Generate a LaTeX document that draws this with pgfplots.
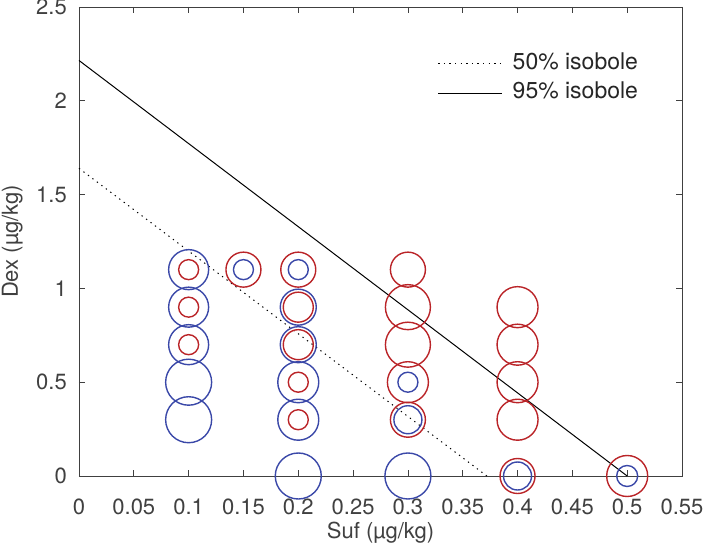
\documentclass[border=0pt]{standalone}
\usepackage{fontspec}
\setmainfont{TeX Gyre Heros}
\usepackage{pgfplots}
\pgfplotsset{compat=1.18}
\definecolor{cblue}{RGB}{58,72,168}
\definecolor{cred}{RGB}{186,36,40}
\definecolor{axgray}{RGB}{64,64,64}
\newcommand{\bigf}{\fontsize{22}{26}\selectfont}
\newcommand{\legf}{\fontsize{23}{27}\selectfont}
\begin{document}
\begin{tikzpicture}
\begin{axis}[name=ax, at={(0,0)}, anchor=south west,
  scale only axis, width=603pt, height=469pt,
  xmin=0, xmax=0.55, ymin=0, ymax=2.5,
  clip=false,
  xtick={0,0.05,0.1,0.15,0.2,0.25,0.3,0.35,0.4,0.45,0.5,0.55},
  xticklabels={0,0.05,0.1,0.15,0.2,0.25,0.3,0.35,0.4,0.45,0.5,0.55},
  ytick={0,0.5,1,1.5,2,2.5},
  yticklabels={0,0.5,1,1.5,2,2.5},
  tick align=inside, major tick length=6pt,
  axis line style={axgray, line width=0.7pt},
  tick style={axgray, line width=0.7pt},
  /pgf/number format/assume math mode=true,
  every tick label/.append style={font=\bigf, text=axgray, inner sep=0pt},
  xticklabel style={anchor=base, yshift=-38.5pt},
  yticklabel style={anchor=east, xshift=-12pt},
  xlabel={Suf (µg/kg)}, ylabel={Dex (µg/kg)},
  xlabel style={font=\bigf, text=axgray, inner sep=0pt, at={(axis description cs:0.5,-0.1343)}, anchor=base},
  ylabel style={font=\bigf, text=axgray, inner sep=0pt, at={(axis description cs:-0.1012,0.5)}, anchor=base},
  legend style={draw=none, fill=none, inner sep=0pt, at={(axis cs:0.327,2.256)}, anchor=north west,
    font=\legf, text=black!85, row sep=8pt,
    nodes={inner sep=0pt, text height=16.5pt, text depth=5pt}},
  legend cell align=left,
  legend image code/.code={\draw[#1] (0pt,0pt) -- (64pt,0pt);},
  /tikz/every odd column/.append style={column sep=10pt},
]
\addplot[black, line width=1pt, dash pattern=on 1.3pt off 4.3pt] coordinates {(0,1.64) (0.372,0)};
\addlegendentry{50\% isobole}
\addplot[black, line width=1pt] coordinates {(0,2.215) (0.5,0)};
\addlegendentry{95\% isobole}
% blue circles
\addplot[forget plot, only marks, mark=o, mark size=20pt, cblue, line width=1.4pt] coordinates {(0.1,1.1) (0.1,0.9) (0.1,0.7)};
\addplot[forget plot, only marks, mark=o, mark size=23pt, cblue, line width=1.4pt] coordinates {(0.1,0.5) (0.1,0.3) (0.2,0) (0.3,0)};
\addplot[forget plot, only marks, mark=o, mark size=10pt, cblue, line width=1.4pt] coordinates {(0.15,1.1) (0.2,1.1) (0.3,0.5)};
\addplot[forget plot, only marks, mark=o, mark size=18pt, cblue, line width=1.4pt] coordinates {(0.2,0.9) (0.2,0.7)};
\addplot[forget plot, only marks, mark=o, mark size=20.5pt, cblue, line width=1.4pt] coordinates {(0.2,0.5) (0.2,0.3)};
\addplot[forget plot, only marks, mark=o, mark size=14pt, cblue, line width=1.4pt] coordinates {(0.3,0.3) (0.4,0)};
\addplot[forget plot, only marks, mark=o, mark size=10.5pt, cblue, line width=1.4pt] coordinates {(0.5,0)};
% red circles
\addplot[forget plot, only marks, mark=o, mark size=10pt, cred, line width=1.4pt] coordinates {(0.1,1.1) (0.1,0.9) (0.1,0.7) (0.2,0.5) (0.2,0.3)};
\addplot[forget plot, only marks, mark=o, mark size=17.5pt, cred, line width=1.4pt] coordinates {(0.15,1.1) (0.2,1.1) (0.3,1.1) (0.3,0.3) (0.4,0)};
\addplot[forget plot, only marks, mark=o, mark size=15pt, cred, line width=1.4pt] coordinates {(0.2,0.9) (0.2,0.7)};
\addplot[forget plot, only marks, mark=o, mark size=22.5pt, cred, line width=1.4pt] coordinates {(0.3,0.9) (0.3,0.7)};
\addplot[forget plot, only marks, mark=o, mark size=20.5pt, cred, line width=1.4pt] coordinates {(0.3,0.5) (0.4,0.9) (0.4,0.7) (0.4,0.5) (0.4,0.3) (0.5,0)};
\end{axis}
\pgfresetboundingbox
\path (ax.south west) ++(-79pt,-75pt) rectangle ++(703pt,551pt);
\end{tikzpicture}
\end{document}
